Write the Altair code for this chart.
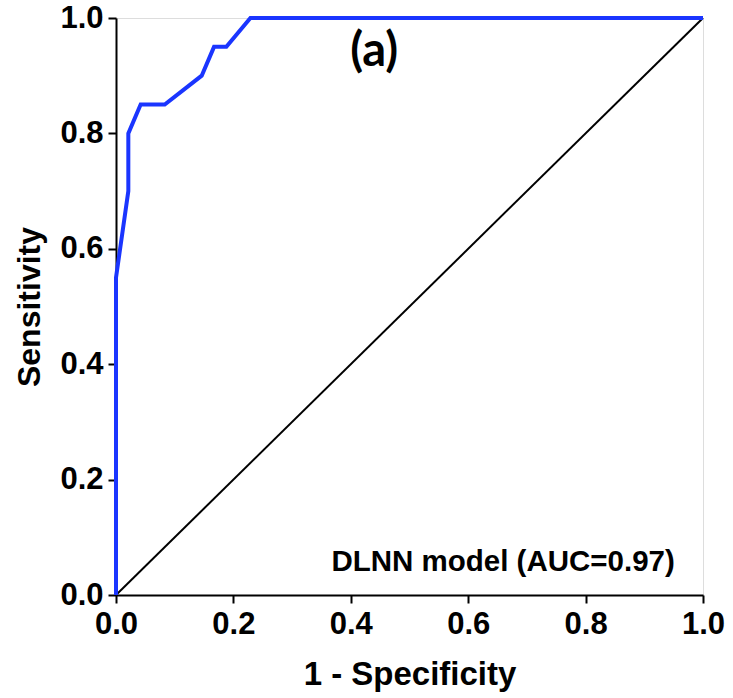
import altair as alt
import pandas as pd

# ROC curve points (1 - specificity, sensitivity)
fpr = [0.0, 0.0, 0.021, 0.021, 0.042, 0.083, 0.146, 0.167, 0.188, 0.229, 1.0]
tpr = [0.0, 0.55, 0.70, 0.80, 0.85, 0.85, 0.90, 0.95, 0.95, 1.0, 1.0]
diag_x = [0.0, 1.0]
diag_y = [0.0, 1.0]
tick_vals = [0.0, 0.2, 0.4, 0.6, 0.8, 1.0]

roc = pd.DataFrame({"fpr": fpr, "tpr": tpr, "order": list(range(len(fpr)))})
diag = pd.DataFrame({"fpr": diag_x, "tpr": diag_y, "order": [0, 1]})
labels = pd.DataFrame({
    "fpr": [0.44, 0.952],
    "tpr": [0.941, 0.057],
    "text": ["(a)", "DLNN model (AUC=0.97)"],
})

FONT = "Liberation Sans"

xenc = alt.X("fpr:Q", scale=alt.Scale(domain=[0, 1], nice=False),
             axis=alt.Axis(values=tick_vals, format=".1f", title="1 - Specificity",
                           grid=False, tickSize=8, tickWidth=2, tickColor="black",
                           domainColor="black", domainWidth=2,
                           labelFont=FONT, labelFontSize=31, labelFontWeight="bold",
                           labelColor="black", labelPadding=6, labelFlush=False,
                           titleFont=FONT, titleFontSize=33, titleFontWeight="bold",
                           titleColor="black", titlePadding=19))
yenc = alt.Y("tpr:Q", scale=alt.Scale(domain=[0, 1], nice=False),
             axis=alt.Axis(values=tick_vals, format=".1f", title="Sensitivity",
                           grid=False, tickSize=8, tickWidth=2, tickColor="black",
                           domainColor="black", domainWidth=2,
                           labelFont=FONT, labelFontSize=31, labelFontWeight="bold",
                           labelColor="black", labelPadding=5, labelFlush=False,
                           titleFont=FONT, titleFontSize=32, titleFontWeight="bold",
                           titleColor="black", titlePadding=13))

diag_line = alt.Chart(diag).mark_line(color="black", strokeWidth=2).encode(
    x=xenc, y=yenc, order="order:O")

roc_line = alt.Chart(roc).mark_line(color="#1a35ff", strokeWidth=4).encode(
    x="fpr:Q", y="tpr:Q", order="order:O")

a_label = alt.Chart(labels.iloc[[0]]).mark_text(
    font="Lato", fontSize=47, fontWeight="bold", color="black", align="center",
    baseline="middle").encode(x="fpr:Q", y="tpr:Q", text="text:N")

auc_label = alt.Chart(labels.iloc[[1]]).mark_text(
    font=FONT, fontSize=29.5, fontWeight="bold", color="black", align="right",
    baseline="middle").encode(x="fpr:Q", y="tpr:Q", text="text:N")

chart = alt.layer(diag_line, roc_line, a_label, auc_label).properties(
    width=587, height=577,
    autosize=alt.AutoSizeParams(type="none"),
    padding={"left": 116, "top": 18, "right": 30, "bottom": 103},
).configure_view(stroke="black", strokeWidth=2).configure(background="white")

chart.save("out.html", embed_options={"renderer": "svg", "actions": False})
